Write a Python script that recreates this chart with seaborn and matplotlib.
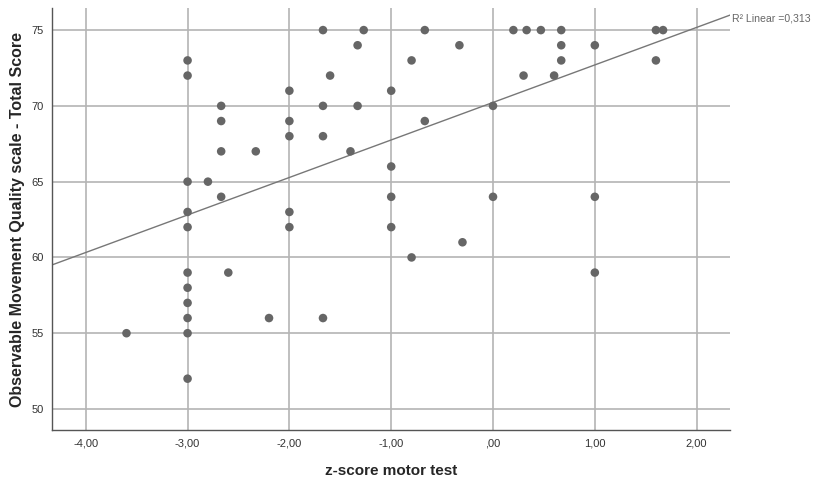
import numpy as np
import pandas as pd
import matplotlib
matplotlib.use("Agg")
import matplotlib.pyplot as plt
from matplotlib.ticker import FuncFormatter
import seaborn as sns

# z-score motor test (x) and OMQ total score (y)
z_score = [
    -3.6,
    -3.0, -3.0, -3.0, -3.0, -3.0, -3.0, -3.0, -3.0, -3.0, -3.0, -3.0,
    -2.8,
    -2.67, -2.67, -2.67, -2.67,
    -2.6, -2.33, -2.2,
    -2.0, -2.0, -2.0, -2.0, -2.0,
    -1.67, -1.67, -1.67, -1.67,
    -1.6, -1.4, -1.33, -1.33, -1.27,
    -1.0, -1.0, -1.0, -1.0,
    -0.8, -0.8, -0.67, -0.67, -0.33, -0.3,
    0.0, 0.0, 0.2, 0.3, 0.33, 0.47, 0.6,
    0.67, 0.67, 0.67,
    1.0, 1.0, 1.0,
    1.6, 1.6, 1.67,
]
total_score = [
    55,
    73, 72, 65, 63, 62, 59, 58, 57, 56, 55, 52,
    65,
    70, 69, 67, 64,
    59, 67, 56,
    71, 69, 68, 63, 62,
    75, 70, 68, 56,
    72, 67, 74, 70, 75,
    71, 66, 64, 62,
    73, 60, 75, 69, 74, 61,
    70, 64, 75, 72, 75, 75, 72,
    75, 74, 73,
    74, 64, 59,
    75, 73, 75,
]
x_ticks = [-4, -3, -2, -1, 0, 1, 2]
y_ticks = [50, 55, 60, 65, 70, 75]
r2_value = 0.313

df = pd.DataFrame({"z": z_score, "omq": total_score})

sns.set_style("white")
plt.rcParams["font.family"] = ["Liberation Sans", "DejaVu Sans"]

fig = plt.figure(figsize=(8.15, 4.78), dpi=100)
ax = fig.add_axes([0.064, 0.100, 0.832, 0.883])

ax.set_xlim(-4.33, 2.33)
ax.set_ylim(48.6, 76.45)

sns.regplot(data=df, x="z", y="omq", ax=ax, ci=None, truncate=False,
            scatter_kws={"s": 38, "color": "#666666", "edgecolor": "none", "alpha": 1, "zorder": 3},
            line_kws={"color": "#777777", "linewidth": 1.0, "zorder": 2})

def comma_fmt(v, pos):
    if abs(v) < 1e-9:
        return ",00"
    return f"{v:.2f}".replace(".", ",")

ax.set_xticks(x_ticks)
ax.set_yticks(y_ticks)
ax.xaxis.set_major_formatter(FuncFormatter(comma_fmt))
ax.tick_params(axis="both", length=0, labelsize=8, labelcolor="#333333", pad=6)
ax.grid(True, color="#b4b4b4", linewidth=1.2, zorder=0)
ax.set_axisbelow(True)

for side in ["top", "right"]:
    ax.spines[side].set_visible(False)
for side in ["left", "bottom"]:
    ax.spines[side].set_color("#555555")
    ax.spines[side].set_linewidth(1.0)

ax.set_xlabel("z-score motor test", fontsize=11, fontweight="bold", labelpad=11)
ax.set_ylabel("Observable Movement Quality scale - Total Score", fontsize=11.5,
              fontweight="bold", labelpad=5)

ax.text(1.002, 0.975, f"R² Linear ={r2_value:.3f}".replace(".", ","),
        transform=ax.transAxes, fontsize=7.6, color="#666666", ha="left", va="center")

fig.savefig("out.png", dpi=100)
